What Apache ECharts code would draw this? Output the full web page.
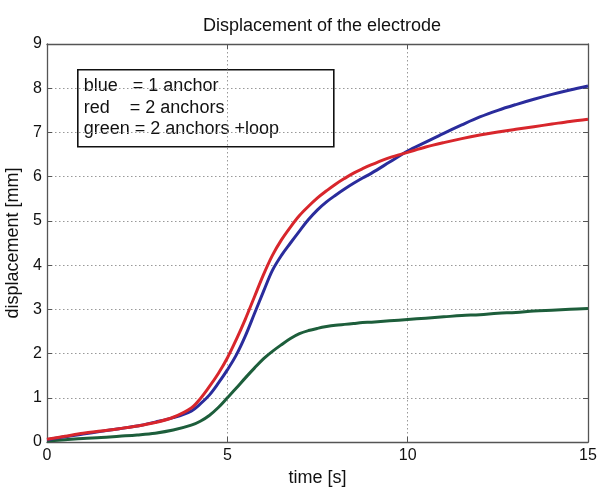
<!DOCTYPE html>
<html>
<head>
<meta charset="utf-8">
<script src="https://cdn.jsdelivr.net/npm/echarts@6/dist/echarts.min.js"></script>
<style>html,body{margin:0;padding:0;background:#fff;}#c{width:598px;height:488px;}</style>
</head>
<body>
<div id="c"></div>
<script>
var times = [0,0.5,1,1.5,2,2.5,3,3.5,4,4.25,4.5,4.75,5,5.25,5.5,5.75,6,6.25,6.5,6.75,7,7.25,7.5,7.75,8,8.25,8.5,8.75,9,9.5,10,10.5,11,11.5,12,12.5,13,13.5,14,14.5,15];
var blueOneAnchor = [0.05,0.12,0.18,0.24,0.30,0.36,0.45,0.55,0.7,0.86,1.06,1.33,1.63,1.97,2.4,2.9,3.4,3.88,4.22,4.5,4.77,5.03,5.25,5.43,5.58,5.72,5.85,5.97,6.08,6.33,6.58,6.78,6.98,7.17,7.35,7.5,7.63,7.75,7.86,7.96,8.05];
var redTwoAnchors = [0.06,0.13,0.2,0.25,0.3,0.36,0.44,0.56,0.77,0.98,1.25,1.55,1.9,2.32,2.78,3.28,3.78,4.22,4.57,4.86,5.12,5.33,5.52,5.68,5.83,5.96,6.08,6.18,6.27,6.43,6.55,6.67,6.77,6.86,6.94,7.01,7.07,7.13,7.19,7.25,7.3];
var greenTwoAnchorsLoop = [0.02,0.05,0.08,0.1,0.13,0.16,0.2,0.27,0.38,0.47,0.6,0.78,1.0,1.22,1.45,1.67,1.88,2.05,2.2,2.34,2.45,2.52,2.57,2.61,2.64,2.66,2.68,2.7,2.71,2.74,2.77,2.8,2.83,2.86,2.88,2.91,2.93,2.96,2.98,3.0,3.02];
var legendLines = ['blue   = 1 anchor', 'red    = 2 anchors', 'green = 2 anchors +loop'];
var titleText = 'Displacement of the electrode';

function pairs(vals){ return times.map(function(t,i){ return [t, vals[i]]; }); }

var FONT = 'Liberation Sans, Arial, sans-serif';
var chart = echarts.init(document.getElementById('c'), null, {renderer:'canvas'});
chart.setOption({
  animation: false,
  backgroundColor: '#fff',
  title: { text: titleText, left: 317, top: 12, textAlign: 'center',
    textStyle: { fontFamily: FONT, fontSize: 18, fontWeight: 'normal', color: '#111' } },
  grid: { left: 47, right: 10, top: 44, bottom: 46, show: false, containLabel: false, outerBoundsMode: 'none' },
  xAxis: [{
    type: 'value', min: 0, max: 15, interval: 5,
    name: 'time [s]', nameLocation: 'middle', nameGap: 26,
    nameTextStyle: { fontFamily: FONT, fontSize: 18, color: '#111' },
    axisLine: { show: true, lineStyle: { color: '#555', width: 1.3 } },
    axisTick: { show: true, inside: true, length: 5, lineStyle: { color: '#555' } },
    axisLabel: { fontFamily: FONT, fontSize: 16, color: '#111', margin: 6 },
    splitLine: { show: true, lineStyle: { color: '#999', type: [1.5, 2.5], width: 1 } }
  }, {
    type: 'value', min: 0, max: 15, interval: 5, position: 'top',
    axisLine: { show: true, onZero: false, lineStyle: { color: '#555', width: 1.3 } },
    axisTick: { show: true, inside: true, length: 5, lineStyle: { color: '#555' } },
    axisLabel: { show: false }, splitLine: { show: false }
  }],
  yAxis: [{
    type: 'value', min: 0, max: 9, interval: 1,
    name: 'displacement [mm]', nameLocation: 'middle', nameGap: 22, nameRotate: 90,
    nameTextStyle: { fontFamily: FONT, fontSize: 18, color: '#111' },
    axisLine: { show: true, lineStyle: { color: '#555', width: 1.3 } },
    axisTick: { show: true, inside: true, length: 5, lineStyle: { color: '#555' } },
    axisLabel: { fontFamily: FONT, fontSize: 16, color: '#111', margin: 5 },
    splitLine: { show: true, lineStyle: { color: '#999', type: [1.5, 2.5], width: 1 } }
  }, {
    type: 'value', min: 0, max: 9, interval: 1, position: 'right',
    axisLine: { show: true, onZero: false, lineStyle: { color: '#555', width: 1.3 } },
    axisTick: { show: true, inside: true, length: 5, lineStyle: { color: '#555' } },
    axisLabel: { show: false }, splitLine: { show: false }
  }],
  series: [
    { name: 'green', type: 'line', data: pairs(greenTwoAnchorsLoop), showSymbol: false, smooth: 0.35,
      lineStyle: { width: 3, color: '#1d5e3b' }, color: '#1d5e3b' },
    { name: 'blue', type: 'line', data: pairs(blueOneAnchor), showSymbol: false, smooth: 0.35,
      lineStyle: { width: 3, color: '#2a2c9c' }, color: '#2a2c9c' },
    { name: 'red', type: 'line', data: pairs(redTwoAnchors), showSymbol: false, smooth: 0.35,
      lineStyle: { width: 3, color: '#d8262c' }, color: '#d8262c' }
  ],
  graphic: [{
    type: 'group', left: 77, top: 69,
    children: [
      { type: 'rect', shape: { x: 0, y: 0, width: 256, height: 77 },
        style: { fill: '#fff', stroke: '#111', lineWidth: 1.6 } },
      { type: 'text', x: 6, y: 16, style: { text: legendLines[0], font: '18px ' + FONT, fill: '#111', verticalAlign: 'middle' } },
      { type: 'text', x: 6, y: 38, style: { text: legendLines[1], font: '18px ' + FONT, fill: '#111', verticalAlign: 'middle' } },
      { type: 'text', x: 6, y: 59, style: { text: legendLines[2], font: '18px ' + FONT, fill: '#111', verticalAlign: 'middle' } }
    ]
  }]
});
</script>
</body>
</html>
